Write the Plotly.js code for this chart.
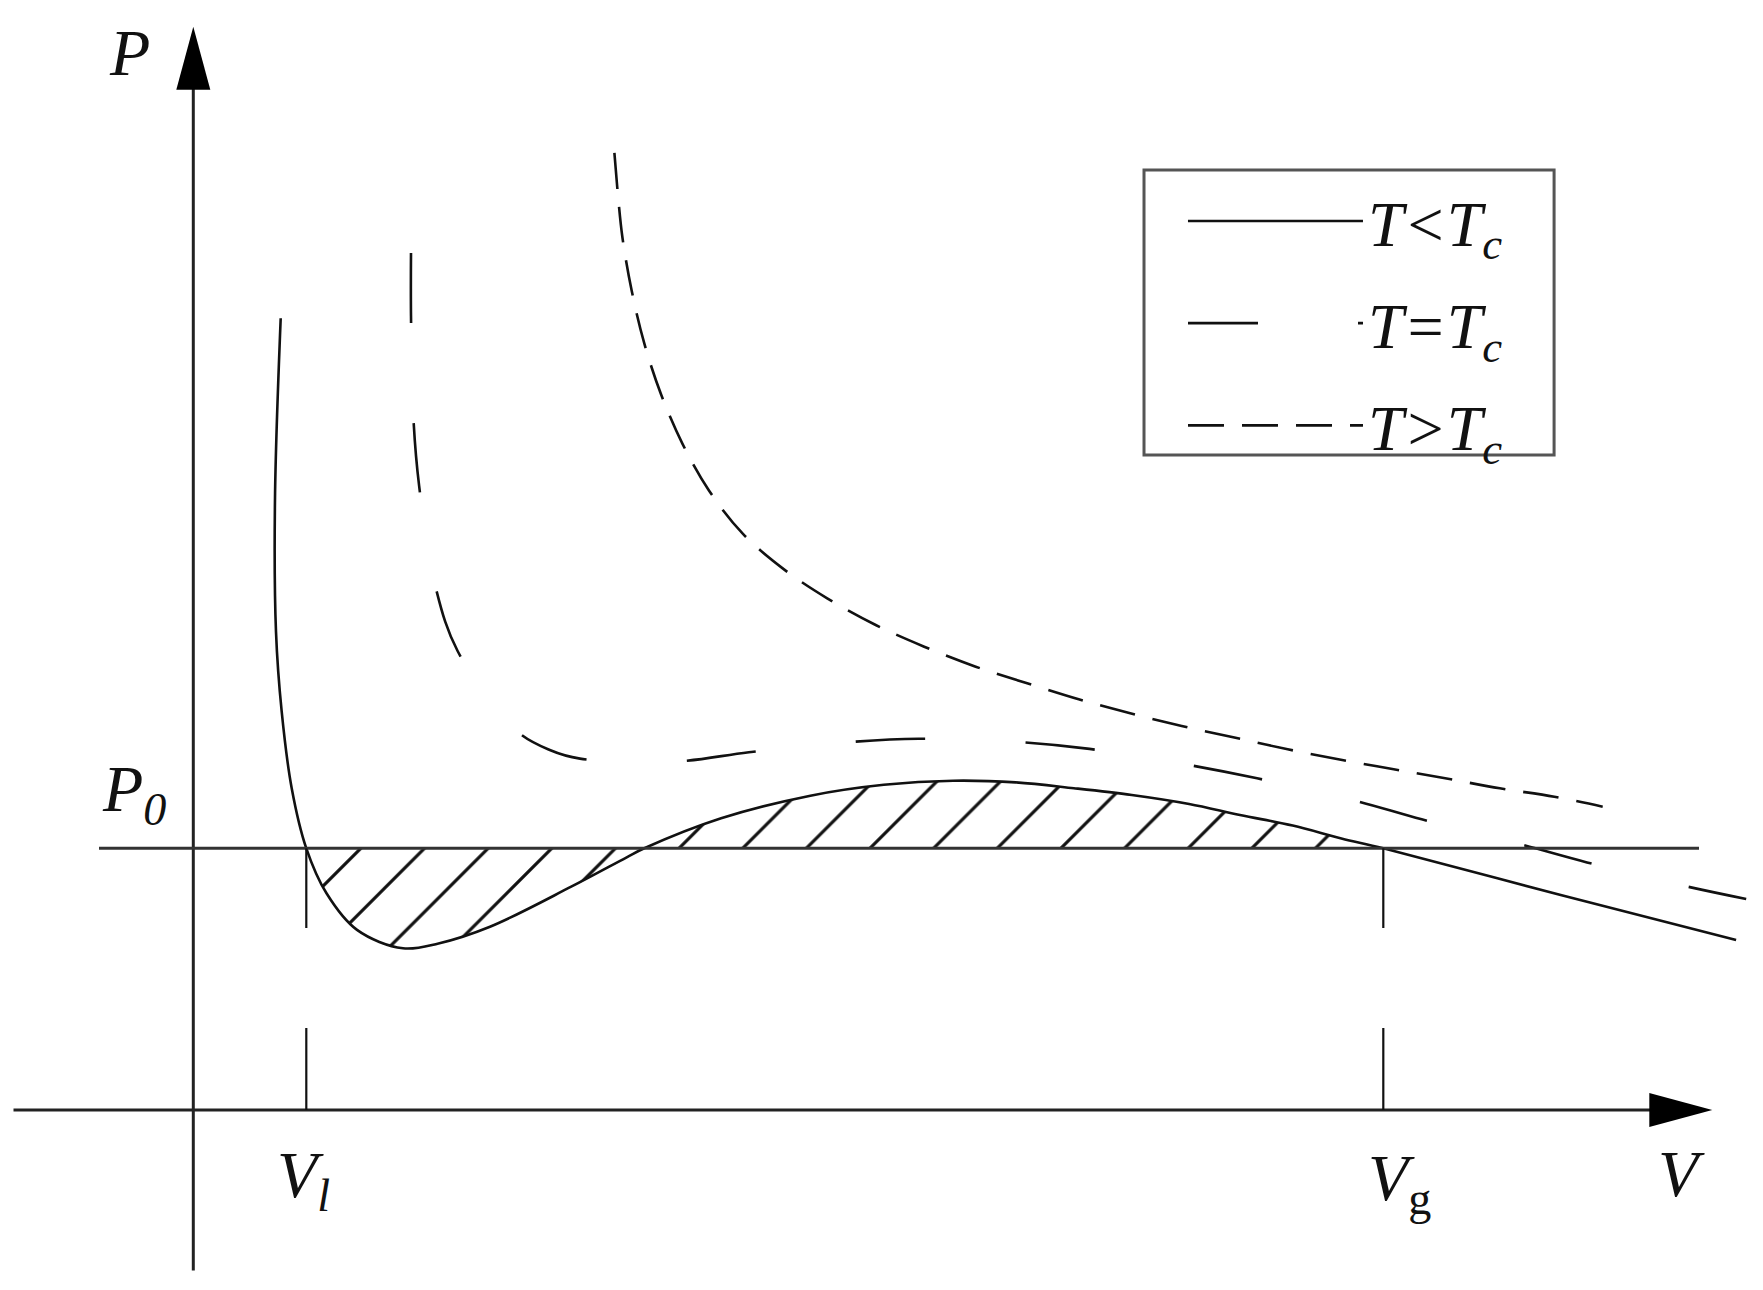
<!DOCTYPE html>
<html>
<head>
<meta charset="utf-8">
<script src="https://cdn.plot.ly/plotly-3.0.1.min.js"></script>
<style>
  html, body { margin: 0; padding: 0; background: #fff; }
</style>
</head>
<body>
<div id="grafico" style="width:1763px;height:1290px;"></div>
<script>
// isotherms (V, P in arbitrary units, origin at the axes crossing)
let vBelow = [0.874, 0.817, 0.827, 0.884, 0.984, 1.13, 1.332, 1.637, 2.097, 2.452, 2.967, 3.779, 4.334, 4.51, 5.278, 6.171, 6.905, 7.599, 8.224, 8.805, 9.385, 9.958, 10.467, 10.994, 11.481, 11.90, 13.674, 15.428];
let pBelow = [7.918, 6.119, 4.781, 3.983, 3.218, 2.617, 2.167, 1.801, 1.617, 1.666, 1.833, 2.233, 2.527, 2.617, 2.917, 3.143, 3.252, 3.293, 3.276, 3.218, 3.150, 3.060, 2.950, 2.844, 2.716, 2.617, 2.150, 1.700];

let vCrit = [2.177, 2.177, 2.200, 2.258, 2.417, 2.643, 3.228, 3.565, 3.867, 4.858, 5.556, 6.556, 7.253, 8.265, 8.962, 9.958, 10.638, 11.616, 12.284, 13.261, 13.937, 14.915, 15.529];
let pCrit = [8.570, 7.940, 6.940, 6.243, 5.253, 4.590, 3.796, 3.600, 3.514, 3.488, 3.578, 3.679, 3.713, 3.679, 3.611, 3.450, 3.317, 3.094, 2.907, 2.660, 2.476, 2.240, 2.110];

let vAbove = [4.211, 4.251, 4.291, 4.384, 4.510, 4.679, 4.892, 5.158, 5.499, 5.910, 6.339, 6.824, 7.309, 7.824, 8.339, 8.854, 9.369, 9.884, 10.399, 10.944, 11.489, 12.004, 12.519, 13.065, 13.610, 14.094];
let pAbove = [9.571, 9.099, 8.727, 8.193, 7.666, 7.153, 6.662, 6.193, 5.759, 5.404, 5.117, 4.850, 4.633, 4.433, 4.267, 4.107, 3.967, 3.840, 3.727, 3.607, 3.500, 3.407, 3.317, 3.217, 3.133, 3.033];

let P0 = 2.617;
let VL = 1.13;
let VG = 11.90;

let seriesNames = ["T&lt;T<sub>c</sub>", "T=T<sub>c</sub>", "T&gt;T<sub>c</sub>"];

// axis extents
let xAxisFrom = -1.798, xAxisTip = 15.19;
let yAxisFrom = -1.606, yAxisTip = 10.833;
let p0From = -0.943, p0To = 15.057;
let dropBreakTop = 1.82, dropBreakBottom = 0.82;
let headLen = 0.63, headHalf = 0.17;

let fonte = "Liberation Serif, Times New Roman, serif";
let tinta = "#111";

// hatched area between the T<Tc curve and the P0 line
let vHatch = [];
let pHatch = [];
vBelow.forEach(function (v, i) {
  if (v >= VL && v <= VG) {
    vHatch.push(v);
    pHatch.push(pBelow[i]);
  }
});

let traceBase = {
  x: [VL, VG], y: [P0, P0],
  mode: "lines", line: { width: 0 },
  showlegend: false, hoverinfo: "skip",
};

let traceHatch = {
  x: vHatch, y: pHatch,
  mode: "lines", line: { width: 0, shape: "spline" },
  fill: "tonexty", fillcolor: "rgba(0,0,0,0)",
  fillpattern: { shape: "/", size: 45, solidity: 0.07, fgcolor: tinta, bgcolor: "rgba(0,0,0,0)" },
  showlegend: false, hoverinfo: "skip",
};

let trace1 = {
  x: vBelow, y: pBelow, name: seriesNames[0], legendgroup: "a",
  mode: "lines", line: { color: tinta, width: 2.6, shape: "spline" },
};

let trace2 = {
  x: vCrit, y: pCrit, name: seriesNames[1], legendgroup: "b",
  mode: "lines", line: { color: tinta, width: 2.6, shape: "spline", dash: "70px,100px" },
};

let trace3 = {
  x: vAbove, y: pAbove, name: seriesNames[2], legendgroup: "c",
  mode: "lines", line: { color: tinta, width: 2.6, shape: "spline", dash: "36px,18px" },
};

let data = [traceBase, traceHatch, trace1, trace2, trace3];

function seg(x0, y0, x1, y1, w, cor) {
  return { type: "line", xref: "x", yref: "y", x0: x0, y0: y0, x1: x1, y1: y1, line: { color: cor, width: w } };
}

let shapes = [
  seg(xAxisFrom, 0, xAxisTip - headLen + 0.05, 0, 3, "#222"),
  seg(0, yAxisFrom, 0, yAxisTip - headLen + 0.05, 3, "#222"),
  seg(p0From, P0, p0To, P0, 3, "#333"),
  seg(VL, P0, VL, dropBreakTop, 2.2, tinta),
  seg(VL, dropBreakBottom, VL, 0, 2.2, tinta),
  seg(VG, P0, VG, dropBreakTop, 2.2, tinta),
  seg(VG, dropBreakBottom, VG, 0, 2.2, tinta),
  {
    type: "path", xref: "x", yref: "y", fillcolor: "#000", line: { width: 0 },
    path: "M" + xAxisTip + ",0 L" + (xAxisTip - headLen) + "," + headHalf + " L" + (xAxisTip - headLen) + "," + (-headHalf) + " Z",
  },
  {
    type: "path", xref: "x", yref: "y", fillcolor: "#000", line: { width: 0 },
    path: "M0," + yAxisTip + " L" + headHalf + "," + (yAxisTip - headLen) + " L" + (-headHalf) + "," + (yAxisTip - headLen) + " Z",
  },
  // legend frame
  { type: "rect", xref: "paper", yref: "paper", x0: 0.6489, x1: 0.8815, y0: 0.6473, y1: 0.8682, line: { color: "#555", width: 3 } },
];

function rotulo(texto, x, y, estilo) {
  return {
    text: texto, x: x, y: y, xref: "x", yref: "y", showarrow: false,
    xanchor: "center", yanchor: "middle",
    font: { family: fonte, size: 66, color: tinta, style: estilo || "italic" },
  };
}

let annotations = [
  rotulo("P", -0.64, 10.58),
  rotulo("P<sub>0</sub>", -0.598, 3.17),
  rotulo("V<sub>l</sub>", 1.10, -0.69),
  rotulo("<i>V</i><sub>g</sub>", 12.06, -0.72, "normal"),
  rotulo("V", 14.882, -0.63),
];

let layout = {
  width: 1763,
  height: 1290,
  autosize: false,
  margin: { l: 0, r: 0, t: 0, b: 0, pad: 0 },
  paper_bgcolor: "#fff",
  plot_bgcolor: "#fff",
  xaxis: { range: [-1.933, 15.697], visible: false, fixedrange: true },
  yaxis: { range: [-1.80, 11.10], visible: false, fixedrange: true },
  showlegend: true,
  legend: {
    x: 0.671, xanchor: "left", y: 0.866, yanchor: "top",
    bgcolor: "rgba(0,0,0,0)", borderwidth: 0,
    itemwidth: 175, tracegroupgap: 16,
    font: { family: fonte, size: 64, color: tinta, style: "italic" },
  },
  shapes: shapes,
  annotations: annotations,
};

let config = { staticPlot: true, displayModeBar: false };

Plotly.newPlot("grafico", data, layout, config);
</script>
</body>
</html>
